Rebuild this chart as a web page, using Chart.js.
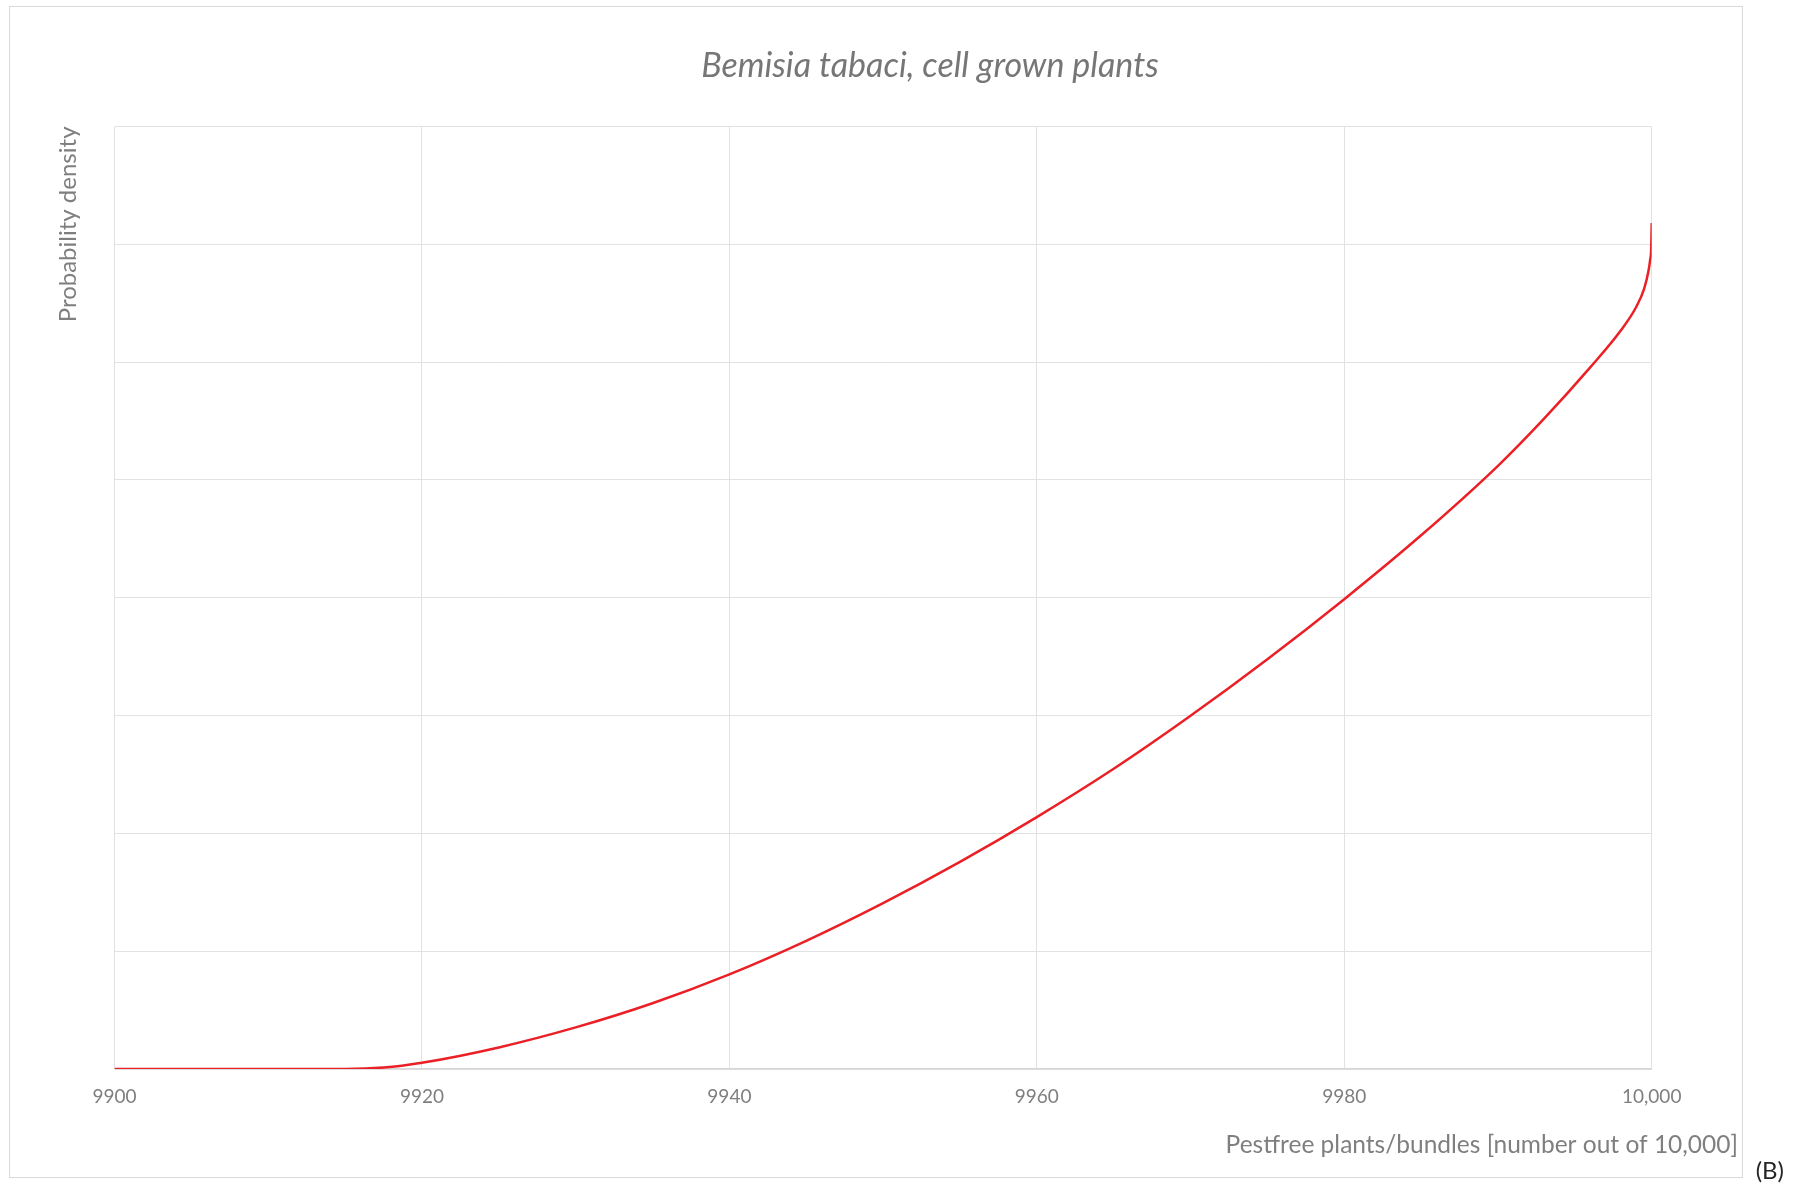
<!DOCTYPE html>
<html>
<head>
<meta charset="utf-8">
<title>Bemisia tabaci, cell grown plants</title>
<script src="https://cdn.jsdelivr.net/npm/chart.js@4.4.1/dist/chart.umd.min.js"></script>
<style>
    html, body { margin: 0; padding: 0; background: #fff; }
    #wrap { position: relative; width: 1796px; height: 1186px; }
</style>
</head>
<body>
<div id="wrap"><canvas id="density-chart" width="1796" height="1186"></canvas></div>
<script>
const chartTitle = 'Bemisia tabaci, cell grown plants';
const xAxisTitle = 'Pestfree plants/bundles [number out of 10,000]';
const yAxisTitle = 'Probability density';
const panelLabel = '(B)';

// Number of pest-free plants out of 10,000 and the density at each
const pestfree = [9900, 9910, 9915, 9917.5, 9920, 9925, 9930, 9935, 9940, 9945, 9950, 9955, 9960,
    9965, 9970, 9975, 9980, 9985, 9990, 9993, 9996, 9998, 9999, 9999.5, 9999.8, 9999.9, 9999.97, 10000];
const density = [0, 0, 0, 0.012, 0.053, 0.183, 0.353, 0.558, 0.803, 1.088, 1.408, 1.758, 2.138,
    2.548, 2.998, 3.478, 3.988, 4.53, 5.12, 5.52, 5.955, 6.27, 6.47, 6.62, 6.78, 6.87, 6.97, 7.18];

const xTickValues = [9900, 9920, 9940, 9960, 9980, 10000];
const xTickLabels = ['9900', '9920', '9940', '9960', '9980', '10,000'];

const FONT = 'Lato, "Open Sans", sans-serif';
const GREY = '#7f7f7f';

// Title, x caption, frame and panel letter are placed by hand
const captions = {
    id: 'captions',
    beforeDraw(chart) {
        const ctx = chart.ctx;
        ctx.save();
        ctx.strokeStyle = '#d9d9d9';
        ctx.lineWidth = 1;
        ctx.strokeRect(9.5, 6.5, 1733, 1171);
        ctx.restore();
    },
    afterDraw(chart) {
        const ctx = chart.ctx;
        ctx.save();
        ctx.textBaseline = 'middle';
        ctx.fillStyle = '#767676';
        ctx.textAlign = 'center';
        ctx.font = 'italic 34px ' + FONT;
        ctx.fillText(chartTitle, 930, 66);

        ctx.fillStyle = GREY;
        ctx.textAlign = 'right';
        ctx.font = '24.5px ' + FONT;
        ctx.fillText(xAxisTitle, 1738, 1145);

        ctx.fillStyle = '#262626';
        ctx.font = '24px ' + FONT;
        ctx.fillText(panelLabel, 1784, 1171);
        ctx.restore();
    }
};

new Chart(document.getElementById('density-chart'), {
    type: 'line',
    data: {
        datasets: [{
            label: chartTitle,
            data: pestfree.map((x, i) => ({ x: x, y: density[i] })),
            borderColor: 'rgb(235, 32, 38)',
            borderWidth: 2.5,
            pointRadius: 0,
            fill: false,
            cubicInterpolationMode: 'monotone'
        }]
    },
    options: {
        responsive: false,
        animation: false,
        layout: { padding: { top: 126.5, left: 50, right: 144.3, bottom: 0 } },
        plugins: {
            legend: { display: false },
            tooltip: { enabled: false }
        },
        scales: {
            x: {
                type: 'linear',
                min: xTickValues[0],
                max: xTickValues[xTickValues.length - 1],
                afterBuildTicks: scale => {
                    scale.ticks = xTickValues.map(v => ({ value: v }));
                },
                afterFit: scale => { scale.height = 117; },
                ticks: {
                    color: GREY,
                    font: { family: FONT, size: 19 },
                    padding: 16,
                    maxRotation: 0,
                    callback: value => xTickLabels[xTickValues.indexOf(value)]
                },
                grid: { color: '#e2e2e2', lineWidth: 1, drawTicks: false },
                border: { color: '#d6d6d6', width: 1.5 }
            },
            y: {
                min: 0,
                max: 8,
                afterFit: scale => { scale.width = 64.5; },
                ticks: { display: false, stepSize: 1 },
                grid: { color: '#e2e2e2', lineWidth: 1, drawTicks: false },
                border: { display: false },
                title: {
                    display: true,
                    text: yAxisTitle,
                    align: 'end',
                    color: GREY,
                    font: { family: FONT, size: 24 }
                }
            }
        }
    },
    plugins: [captions]
});
</script>
</body>
</html>
